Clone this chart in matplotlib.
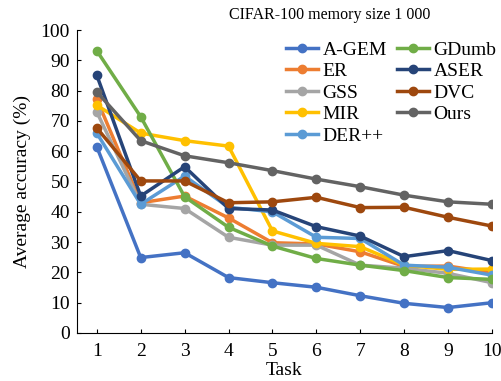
import matplotlib
matplotlib.use('Agg')
import matplotlib.pyplot as plt

plt.rcParams['font.family'] = ['Liberation Serif', 'DejaVu Serif']

# ---- data ----
tasks = [1, 2, 3, 4, 5, 6, 7, 8, 9, 10]
methods = ['A-GEM', 'ER', 'GSS', 'MIR', 'DER++', 'GDumb', 'ASER', 'DVC', 'Ours']
agem  = [61.5, 24.9, 26.5, 18.3, 16.6, 15.1, 12.3, 9.8, 8.4, 10.0]
er    = [77.2, 43.0, 45.2, 38.0, 29.8, 29.4, 26.8, 22.0, 22.1, 19.9]
gss   = [73.0, 42.5, 41.1, 31.6, 29.0, 29.0, 22.4, 21.4, 19.7, 16.6]
mir   = [75.2, 66.0, 63.5, 61.7, 33.7, 29.6, 28.5, 22.4, 21.0, 21.1]
derpp = [66.0, 42.5, 51.8, 41.5, 40.0, 31.6, 31.2, 22.4, 21.7, 19.1]
gdumb = [93.2, 71.4, 45.0, 34.9, 28.7, 24.6, 22.4, 20.6, 18.3, 17.7]
aser  = [85.1, 45.2, 54.9, 41.1, 40.6, 35.1, 32.0, 25.2, 27.2, 23.9]
dvc   = [67.7, 50.2, 50.2, 43.0, 43.3, 44.8, 41.4, 41.5, 38.2, 35.3]
ours  = [79.6, 63.5, 58.5, 56.2, 53.6, 50.8, 48.3, 45.5, 43.3, 42.5]
series = [agem, er, gss, mir, derpp, gdumb, aser, dvc, ours]

colors = ['#4472C4', '#ED7D31', '#A5A5A5', '#FFC000', '#5B9BD5',
          '#70AD47', '#264478', '#9E480E', '#636363']

fig = plt.figure(figsize=(5.02, 3.81), dpi=100)
ax = fig.add_axes([0.153, 0.126, 0.827, 0.795])

for name, vals, c in zip(methods, series, colors):
    ax.plot(tasks, vals, color=c, lw=2.5, marker='o', ms=6, label=name)

ax.set_xlim(0.545, 10)
ax.set_ylim(0, 100)
ax.set_xticks(tasks)
ax.set_yticks(range(0, 101, 10))
ax.spines['top'].set_visible(False)
ax.spines['right'].set_visible(False)
ax.tick_params(direction='in', labelsize=14, length=3)
ax.tick_params(axis='x', pad=7)
ax.tick_params(axis='y', pad=5)
ax.set_xlabel('Task', fontsize=14, labelpad=2)
ax.set_ylabel('Average accuracy (%)', fontsize=14, labelpad=7)

fig.text(0.657, 0.96, 'CIFAR-100 memory size 1 000', ha='center', va='center', fontsize=11.5)

ax.legend(ncol=2, loc='upper right', bbox_to_anchor=(1.03, 0.99), frameon=False,
          fontsize=14, handlelength=1.65, handletextpad=0.25, columnspacing=0.5,
          labelspacing=0.2, borderaxespad=0)

fig.savefig('out.png', dpi=100)
